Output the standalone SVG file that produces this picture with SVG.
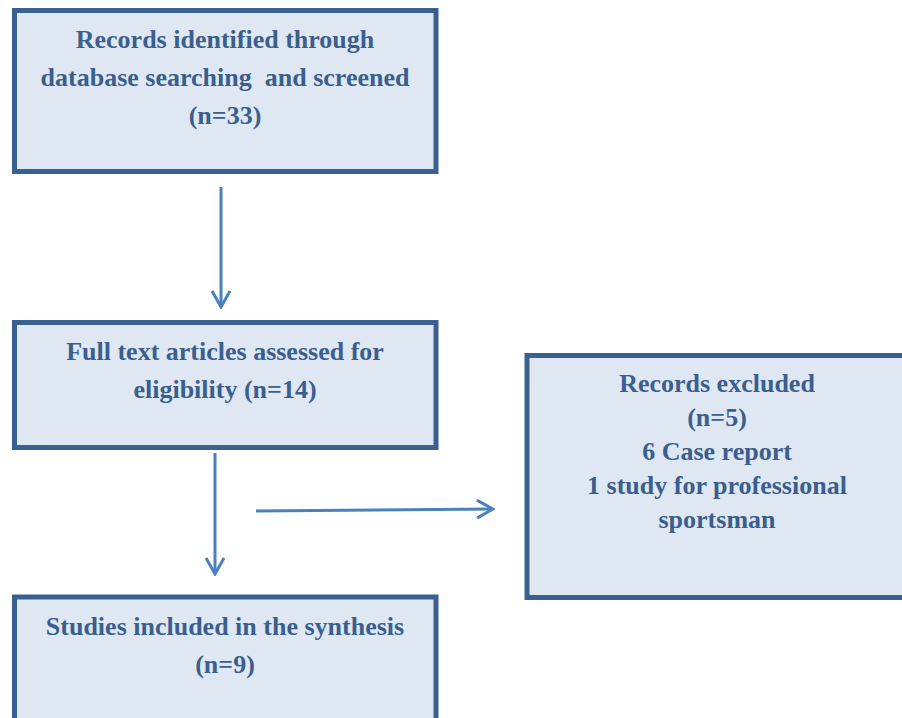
<svg xmlns="http://www.w3.org/2000/svg" width="902" height="718" viewBox="0 0 902 718">
<style>
.box{fill:#dfe7f2;stroke:#3a6090;stroke-width:5}
.t{font-family:"Liberation Serif","DejaVu Serif",serif;font-size:26px;fill:#3a5f8f;text-anchor:middle;font-weight:bold;white-space:pre}
.c{stroke:#4a7fc0;stroke-width:3;fill:none}
</style>
<defs>
<marker id="ah" viewBox="0 0 20 20" refX="18" refY="10" markerWidth="20" markerHeight="20" markerUnits="userSpaceOnUse" orient="auto">
<path d="M2,1 L18,10 L2,19" fill="none" stroke="#4a7fc0" stroke-width="3"/>
</marker>
</defs>
<rect width="902" height="718" fill="#ffffff"/>
<g id="n1">
<rect class="box" x="14.5" y="10.5" width="421.5" height="161"/>
<text class="t" x="225" y="48">Records identified through</text>
<text class="t" x="225" y="86">database searching  and screened</text>
<text class="t" x="225" y="124">(n=33)</text>
</g>
<g id="n2">
<rect class="box" x="14.5" y="322.5" width="421.5" height="125"/>
<text class="t" x="225" y="360">Full text articles assessed for</text>
<text class="t" x="225" y="398">eligibility (n=14)</text>
</g>
<g id="n3">
<rect class="box" x="527" y="355.5" width="380" height="242"/>
<text class="t" x="717" y="392">Records excluded</text>
<text class="t" x="717" y="426">(n=5)</text>
<text class="t" x="717" y="460">6 Case report</text>
<text class="t" x="717" y="494">1 study for professional</text>
<text class="t" x="717" y="528">sportsman</text>
</g>
<g id="n4">
<rect class="box" x="14.5" y="597" width="421.5" height="130"/>
<text class="t" x="225" y="635">Studies included in the synthesis</text>
<text class="t" x="225" y="673">(n=9)</text>
</g>
<g id="connectors">
<line class="c" x1="221" y1="187" x2="221" y2="307" marker-end="url(#ah)"/>
<line class="c" x1="215" y1="453" x2="215" y2="574" marker-end="url(#ah)"/>
<line class="c" x1="256" y1="511" x2="493" y2="509" marker-end="url(#ah)"/>
</g>
</svg>
